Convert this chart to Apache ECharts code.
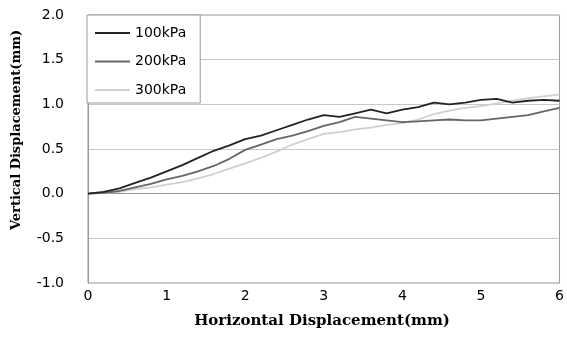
<!DOCTYPE html>
<html><head><meta charset="utf-8">
<script src="https://cdn.jsdelivr.net/npm/echarts@6/dist/echarts.min.js"></script>
<style>html,body{margin:0;padding:0;background:#fff}#c{width:567px;height:345px}</style>
</head><body><div id="c"></div>
<script>
const xs = [0,0.2,0.4,0.6,0.8,1.0,1.2,1.4,1.6,1.8,2.0,2.2,2.4,2.6,2.8,3.0,3.2,3.4,3.6,3.8,4.0,4.2,4.4,4.6,4.8,5.0,5.2,5.4,5.6,5.8,6.0];
const s100 = [0,0.02,0.06,0.12,0.18,0.25,0.32,0.40,0.48,0.54,0.61,0.65,0.71,0.77,0.83,0.88,0.86,0.90,0.94,0.90,0.94,0.97,1.02,1.00,1.02,1.05,1.06,1.02,1.04,1.05,1.04];
const s200 = [0,0.01,0.03,0.07,0.11,0.16,0.20,0.25,0.31,0.39,0.49,0.55,0.61,0.65,0.70,0.76,0.80,0.86,0.84,0.82,0.80,0.81,0.82,0.83,0.82,0.82,0.84,0.86,0.88,0.92,0.96];
const s300 = [0,0.01,0.02,0.05,0.07,0.10,0.13,0.17,0.22,0.28,0.34,0.40,0.47,0.55,0.61,0.67,0.69,0.72,0.74,0.77,0.79,0.83,0.89,0.93,0.96,0.98,1.01,1.04,1.07,1.09,1.11];
const names = ['100kPa','200kPa','300kPa'];
const colors = ['#222222','#666666','#d0d0d0'];
const xTitle = 'Horizontal Displacement(mm)';
const yTitle = 'Vertical Displacement(mm)';

const pair = arr => xs.map((x,i)=>[x,arr[i]]);
const tickFont = {fontFamily:'DejaVu Sans', fontSize:14, color:'#000'};
const chart = echarts.init(document.getElementById('c'));
chart.setOption({
  animation:false,
  grid:{left:88,right:6,top:15,bottom:62,show:true,borderColor:'#999',borderWidth:1},
  xAxis:{type:'value',min:0,max:6,interval:1,
    axisLine:{show:true,lineStyle:{color:'#999'}},axisTick:{show:false},splitLine:{show:false},
    axisLabel:Object.assign({margin:6},tickFont)},
  yAxis:{type:'value',min:-1,max:2,interval:0.5,
    axisLine:{show:true,lineStyle:{color:'#999'}},axisTick:{show:false},
    splitLine:{show:true,lineStyle:{color:'#c8c8c8',width:1}},
    axisLabel:Object.assign({margin:24,formatter:v=>v.toFixed(1)},tickFont)},
  legend:{orient:'vertical',left:87,top:15,padding:[11,14,6,7],itemWidth:35,itemHeight:14,itemGap:14.5,
    backgroundColor:'#fff',borderColor:'#999',borderWidth:1,
    itemStyle:{opacity:0},
    textStyle:tickFont,data:names},
  graphic:[
    {type:'text',x:322,y:321,style:{text:xTitle,font:'bold 15px "DejaVu Serif"',fill:'#000',textAlign:'center',textVerticalAlign:'middle'}},
    {type:'text',x:17,y:130,rotation:Math.PI/2,style:{text:yTitle,font:'bold 13px "DejaVu Serif"',fill:'#000',textAlign:'center',textVerticalAlign:'middle'}}
  ],
  series:[
    {name:names[0],type:'line',symbol:'none',data:pair(s100),lineStyle:{color:colors[0],width:1.8},itemStyle:{color:colors[0]},z:4},
    {name:names[1],type:'line',symbol:'none',data:pair(s200),lineStyle:{color:colors[1],width:1.8},itemStyle:{color:colors[1]},z:3},
    {name:names[2],type:'line',symbol:'none',data:pair(s300),lineStyle:{color:colors[2],width:1.8},itemStyle:{color:colors[2]},z:2}
  ]
});
</script></body></html>
